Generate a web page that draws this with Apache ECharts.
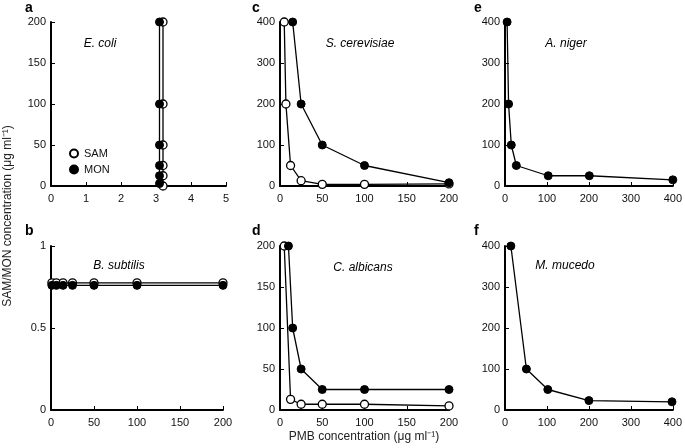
<!DOCTYPE html>
<html><head><meta charset="utf-8">
<script src="https://cdn.jsdelivr.net/npm/echarts@6/dist/echarts.min.js"></script>
<style>html,body{margin:0;padding:0;background:#fff}#c{width:685px;height:448px}</style>
</head><body><div id="c"></div>
<script>
// ---- data ----
const ecoliSAM = [[3.2,0],[3.2,12.5],[3.2,25],[3.2,50],[3.2,100],[3.2,200]];
const ecoliMON = [[3.1,3],[3.1,12.5],[3.1,25],[3.1,50],[3.1,100],[3.1,200]];
const bsubSAM = [[1,0.775],[6.25,0.775],[14,0.775],[25,0.775],[50,0.775],[100,0.775],[200,0.775]];
const bsubMON = [[1,0.76],[6.25,0.76],[14,0.76],[25,0.76],[50,0.76],[100,0.76],[200,0.76]];
const scerSAM = [[5,400],[7,200],[12.5,50],[25,13],[50,4],[100,4],[200,5]];
const scerMON = [[15,400],[25,200],[50,100],[100,50],[200,8]];
const calbSAM = [[5,200],[12.5,13],[25,7],[50,7],[100,7],[200,5]];
const calbMON = [[10,200],[15,100],[25,50],[50,25],[100,25],[200,25]];
const anigMON = [[5,400],[8.5,200],[15,100],[27,50],[103,25],[201,25],[400,15]];
const mmucMON = [[14,400],[51,100],[102,50],[200,23],[398,20]];

const xTicks = [ {min:0,max:5,interval:1}, {min:0,max:200,interval:50}, {min:0,max:200,interval:50},
                 {min:0,max:200,interval:50}, {min:0,max:400,interval:100}, {min:0,max:400,interval:100} ];
const yTicks = [ {min:0,max:200,interval:50}, {min:0,max:1,interval:0.5}, {min:0,max:400,interval:100},
                 {min:0,max:200,interval:50}, {min:0,max:400,interval:100}, {min:0,max:400,interval:100} ];
const panelLetters = ['a','b','c','d','e','f'];
const species = ['E. coli','B. subtilis','S. cerevisiae','C. albicans','A. niger','M. mucedo'];

// ---- layout ----
const grids = [
  {left:51, top:22, width:175, height:164},
  {left:51, top:246, width:172, height:164},
  {left:280, top:22, width:169, height:164},
  {left:280, top:246, width:169, height:164},
  {left:505, top:22, width:170, height:164},
  {left:505, top:246, width:170, height:164}
];
const FONT = 'Liberation Sans, Arial, sans-serif';
const axisCommon = {
  axisLine:{onZero:false, lineStyle:{color:'#000', width:2}},
  axisTick:{inside:true, length:4, lineStyle:{color:'#000', width:1}},
  splitLine:{show:false},
  axisLabel:{color:'#111', fontSize:11, fontFamily:FONT}
};
const xAxes = xTicks.map((t,i)=>Object.assign({type:'value', gridIndex:i}, t, axisCommon,
  {axisLabel:Object.assign({}, axisCommon.axisLabel, {margin:7})}));
const yAxes = yTicks.map((t,i)=>Object.assign({type:'value', gridIndex:i}, t, axisCommon,
  {axisLabel:Object.assign({}, axisCommon.axisLabel, {margin:5})}));

function samSeries(data, i){
  return {name:'SAM', type:'line', xAxisIndex:i, yAxisIndex:i, data:data, symbol:'circle', symbolSize:8,
    lineStyle:{color:'#000', width:1.3}, itemStyle:{color:'#fff', borderColor:'#000', borderWidth:1.3},
    z:3, animation:false, clip:false};
}
function monSeries(data, i){
  return {name:'MON', type:'line', xAxisIndex:i, yAxisIndex:i, data:data, symbol:'circle', symbolSize:8,
    lineStyle:{color:'#000', width:1.3}, itemStyle:{color:'#000', borderColor:'#000', borderWidth:1},
    z:4, animation:false, clip:false};
}
const series = [
  samSeries(ecoliSAM,0), monSeries(ecoliMON,0),
  samSeries(bsubSAM,1), monSeries(bsubMON,1),
  samSeries(scerSAM,2), monSeries(scerMON,2),
  samSeries(calbSAM,3), monSeries(calbMON,3),
  monSeries(anigMON,4), monSeries(mmucMON,5)
];

const letterPos = [[25,1],[25,224],[252,1],[252,224],[474,1],[474,224]];
const speciesPos = [[100,44],[119,266],[360,44],[363,268],[566,44],[565,266]];
const graphics = [];
panelLetters.forEach((l,i)=>graphics.push({type:'text', left:letterPos[i][0], top:letterPos[i][1],
  style:{text:l, font:'bold 14px '+FONT, fill:'#000'}}));
species.forEach((s,i)=>graphics.push({type:'text', x:speciesPos[i][0], y:speciesPos[i][1],
  style:{text:s, font:'italic 12px '+FONT, fill:'#000', textAlign:'center', textVerticalAlign:'middle'}}));
graphics.push({type:'text', x:8, y:216, rotation:Math.PI/2,
  style:{text:'SAM/MON concentration (μg ml⁻¹)', font:'12px '+FONT, fill:'#222', textAlign:'center', textVerticalAlign:'middle'}});
graphics.push({type:'text', x:364, y:437,
  style:{text:'PMB concentration (μg ml⁻¹)', font:'12px '+FONT, fill:'#222', textAlign:'center', textVerticalAlign:'middle'}});

const chart = echarts.init(document.getElementById('c'), null, {renderer:'canvas'});
chart.setOption({
  animation:false,
  backgroundColor:'#fff',
  grid:grids,
  xAxis:xAxes,
  yAxis:yAxes,
  legend:{data:['SAM','MON'], orient:'vertical', left:64, top:143, itemWidth:10, itemHeight:8, itemGap:5,
    icon:'circle', textStyle:{fontSize:11, fontFamily:FONT, color:'#111'}, selectedMode:false},
  series:series,
  graphic:graphics
});
</script></body></html>
